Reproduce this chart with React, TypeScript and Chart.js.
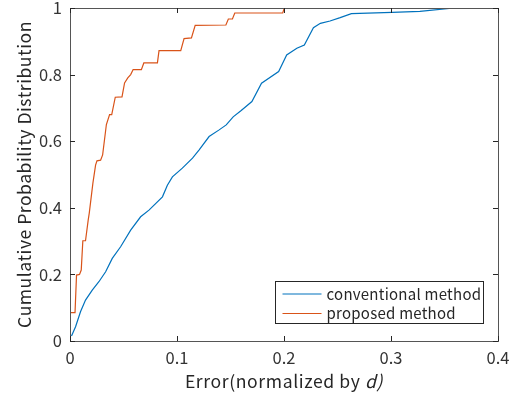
import React, { useEffect, useRef } from "react";
import { Chart, registerables } from "chart.js";
Chart.register(...registerables);

const FONT = '"Noto Sans CJK JP", "Noto Sans", sans-serif';

const xTickValues = [0, 0.1, 0.2, 0.3, 0.4];
const yTickValues = [0, 0.2, 0.4, 0.6, 0.8, 1];
const seriesLabels = ["conventional method", "proposed method"];
const xTitleMain = "Error(normalized by ";
const xTitleItalic = "d)";
const yTitle = "Cumulative Probability Distribution";

const convX = [0.0014, 0.0052, 0.0098, 0.0145, 0.0208, 0.027, 0.0333, 0.0395, 0.0473, 0.0567, 0.066, 0.0738, 0.0864, 0.091, 0.0957, 0.105, 0.1145, 0.1207, 0.13, 0.1394, 0.146, 0.1525, 0.16, 0.17, 0.179, 0.195, 0.2025, 0.212, 0.219, 0.2275, 0.234, 0.243, 0.2525, 0.263, 0.301, 0.327, 0.359, 0.4];
const convY = [0.015, 0.043, 0.088, 0.123, 0.153, 0.178, 0.208, 0.248, 0.283, 0.333, 0.373, 0.393, 0.433, 0.468, 0.493, 0.519, 0.549, 0.574, 0.614, 0.634, 0.649, 0.673, 0.692, 0.719, 0.774, 0.809, 0.859, 0.879, 0.889, 0.941, 0.954, 0.961, 0.971, 0.983, 0.987, 0.99, 1.0, 1.0];

const propX = [0, 0.0047, 0.0061, 0.0089, 0.0105, 0.012, 0.0145, 0.017, 0.018, 0.0214, 0.0239, 0.0252, 0.0286, 0.0305, 0.034, 0.037, 0.039, 0.0423, 0.0486, 0.051, 0.054, 0.0567, 0.059, 0.0667, 0.069, 0.0817, 0.0832, 0.1035, 0.1066, 0.1135, 0.117, 0.1457, 0.148, 0.1518, 0.154, 0.1988, 0.2003];
const propY = [0.085, 0.085, 0.198, 0.2, 0.213, 0.301, 0.301, 0.363, 0.384, 0.474, 0.528, 0.541, 0.543, 0.559, 0.65, 0.68, 0.68, 0.732, 0.733, 0.775, 0.79, 0.8, 0.815, 0.815, 0.835, 0.835, 0.872, 0.872, 0.908, 0.91, 0.948, 0.949, 0.967, 0.967, 0.985, 0.985, 1.0];

const colors = ["#0072BD", "#D95319"];

const decorPlugin = {
  id: "decor",
  afterDraw(chart: any) {
    const ctx = chart.ctx;
    const { left, right, top, bottom } = chart.chartArea;
    const xs = chart.scales.x;
    const ys = chart.scales.y;
    ctx.save();
    ctx.strokeStyle = "#555555";
    ctx.lineWidth = 1;
    ctx.strokeRect(Math.round(left) + 0.5, Math.round(top) + 0.5, Math.round(right - left), Math.round(bottom - top));
    ctx.strokeStyle = "#262626";
    ctx.beginPath();
    for (const v of xTickValues) {
      const px = Math.round(xs.getPixelForValue(v)) + 0.5;
      ctx.moveTo(px, bottom);
      ctx.lineTo(px, bottom - 5);
      ctx.moveTo(px, top);
      ctx.lineTo(px, top + 5);
    }
    for (const v of yTickValues) {
      const py = Math.round(ys.getPixelForValue(v)) + 0.5;
      ctx.moveTo(left, py);
      ctx.lineTo(left + 5, py);
      ctx.moveTo(right, py);
      ctx.lineTo(right - 5, py);
    }
    ctx.stroke();

    // legend
    const bw = 208, bh = 42;
    const bx = Math.round(right - 15 - bw) + 0.5;
    const by = Math.round(bottom - 18 - bh) + 0.5;
    ctx.fillStyle = "#ffffff";
    ctx.fillRect(bx, by, bw, bh);
    ctx.strokeStyle = "#262626";
    ctx.strokeRect(bx, by, bw, bh);
    ctx.font = `15px ${FONT}`;
    (ctx as any).letterSpacing = "0.25px";
    ctx.textBaseline = "middle";
    ctx.textAlign = "left";
    chart.data.datasets.forEach((ds: any, i: number) => {
      const cy = by + 12.5 + i * 19.5;
      ctx.strokeStyle = ds.borderColor;
      ctx.lineWidth = 1.2;
      ctx.beginPath();
      ctx.moveTo(bx + 7, cy);
      ctx.lineTo(bx + 46, cy);
      ctx.stroke();
      ctx.fillStyle = "#262626";
      ctx.fillText(ds.label, bx + 51, cy);
    });

    // x title
    ctx.fillStyle = "#262626";
    ctx.textBaseline = "alphabetic";
    (ctx as any).letterSpacing = "0.6px";
    const fnt = `17.6px ${FONT}`;
    const fntI = `italic 17.6px ${FONT}`;
    ctx.font = fnt;
    const w1 = ctx.measureText(xTitleMain).width;
    ctx.font = fntI;
    const w2 = ctx.measureText(xTitleItalic).width;
    const cx = (left + right) / 2;
    const startX = cx - (w1 + w2) / 2;
    const ty = bottom + 47;
    ctx.font = fnt;
    ctx.fillText(xTitleMain, startX, ty);
    ctx.font = fntI;
    ctx.fillText(xTitleItalic, startX + w1, ty);

    // y title
    ctx.font = fnt;
    (ctx as any).letterSpacing = "0.5px";
    ctx.translate(24, (top + bottom) / 2);
    ctx.rotate(-Math.PI / 2);
    ctx.textAlign = "center";
    ctx.textBaseline = "middle";
    ctx.fillText(yTitle, 0, 0);
    ctx.restore();
  },
};

export default function App() {
  const ref = useRef<HTMLCanvasElement | null>(null);
  useEffect(() => {
    if (!ref.current) return;
    const chart = new Chart(ref.current, {
      type: "line",
      data: {
        datasets: [
          {
            label: seriesLabels[0],
            data: convX.map((x, i) => ({ x, y: convY[i] })),
            borderColor: colors[0],
            backgroundColor: colors[0],
            borderWidth: 1.2,
            pointRadius: 0,
            tension: 0,
          },
          {
            label: seriesLabels[1],
            data: propX.map((x, i) => ({ x, y: propY[i] })),
            borderColor: colors[1],
            backgroundColor: colors[1],
            borderWidth: 1.2,
            pointRadius: 0,
            tension: 0,
          },
        ],
      },
      options: {
        animation: false,
        responsive: false,
        layout: { padding: { left: 0, right: 21, top: 8, bottom: 0 } },
        plugins: { legend: { display: false }, tooltip: { enabled: false } },
        scales: {
          x: {
            type: "linear",
            min: 0,
            max: 0.4,
            afterFit: (s: any) => { s.height = 58; s.paddingLeft = 0; s.paddingRight = 0; s.paddingTop = 0; s.paddingBottom = 0; },
            afterBuildTicks: (s: any) => { s.ticks = xTickValues.map((v) => ({ value: v })); },
            grid: { display: false, drawTicks: false },
            border: { display: false },
            ticks: { padding: 7, color: "#333333", font: { family: FONT, size: 16.5 }, callback: (v: any) => String(v) },
          },
          y: {
            type: "linear",
            min: 0,
            max: 1,
            afterFit: (s: any) => { s.width = 70; s.paddingTop = 0; s.paddingBottom = 0; s.paddingLeft = 0; s.paddingRight = 0; },
            afterBuildTicks: (s: any) => { s.ticks = yTickValues.map((v) => ({ value: v })); },
            grid: { display: false, drawTicks: false },
            border: { display: false },
            ticks: { padding: 8, color: "#333333", font: { family: FONT, size: 16.5, lineHeight: 1 }, callback: (v: any) => String(v) },
          },
        },
      },
      plugins: [decorPlugin],
    });
    return () => chart.destroy();
  }, []);
  return (
    <div style={{ position: "fixed", left: 0, top: 0, width: 519, height: 399, background: "#fff" }}>
      <canvas ref={ref} width={519} height={399} />
    </div>
  );
}
